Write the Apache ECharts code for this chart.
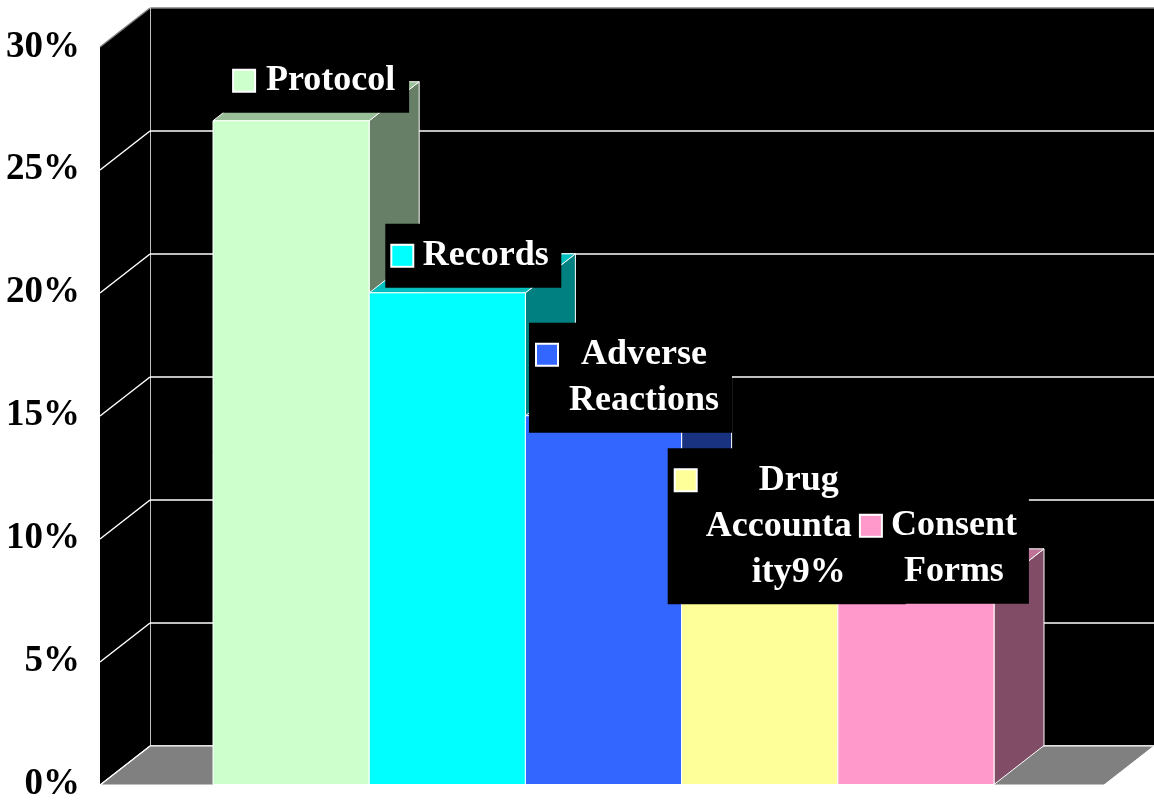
<!DOCTYPE html>
<html>
<head>
<meta charset="utf-8">
<title>Findings by category</title>
<script src="https://cdn.jsdelivr.net/npm/echarts@6/dist/echarts.min.js"></script>
<style>
html, body { margin: 0; padding: 0; background: #fff; }
#main { width: 1154px; height: 803px; }
</style>
</head>
<body>
<div id="main"></div>
<script>
// data (percent)
var categories = ['Protocol', 'Records', 'Adverse Reactions', 'Drug Accountability', 'Consent Forms'];
var values = [27, 20, 15, 9, 8];
var labelLines = [['Protocol'], ['Records'], ['Adverse', 'Reactions'], ['Drug', 'Accounta', 'ity9%'], ['Consent', 'Forms']];
var yTicks = [0, 5, 10, 15, 20, 25, 30];

// colours of the bar faces
var frontColors = ['#CCFFCC', '#00FFFF', '#3366FF', '#FFFF99', '#FF99CC'];
var sideColors = ['#667F66', '#008080', '#1A3380', '#80804C', '#804C66'];
var topColors = ['#99BF99', '#00BFBF', '#264CBF', '#BFBF73', '#BF7399'];

// depth of the 3d look, px
var DX = 50, DY = -39;
var FONT = '"Liberation Serif", "Times New Roman", serif';

// label box layout (offsets from bar top, widths)
var labelBox = [
  { dx: 0, dy: -8, pl: 11, gap: 10, w: 133, pr: 12 },
  { dx: 1, dy: -5, pl: 7, gap: 11, w: 125, pr: 13 },
  { dx: 2, dy: 17, pl: 8, gap: 4, w: 166, pr: 5 },
  { dx: 2, dy: 41, pl: 8, gap: 10, w: 186, pr: 14, leftLines: [1] },
  { dx: 0, dy: 16, pl: 8, gap: 4, w: 138, pr: 6 }
];

var myChart = echarts.init(document.getElementById('main'));

var labelFont = {
  lineHeight: 46, fontSize: 36, fontWeight: 'bold', fontFamily: FONT,
  fill: '#fff', color: '#fff'
};

var option = {
  animation: false,
  grid: [
    // front plane (bars)
    { left: 213, right: 160, top: 47, bottom: 18 },
    // back wall
    { left: 150, right: 0, top: 8, bottom: 57, show: true, backgroundColor: '#000', borderWidth: 0 }
  ],
  xAxis: [
    { type: 'category', gridIndex: 0, data: categories, show: false },
    { type: 'value', gridIndex: 1, min: 0, max: 1, show: false }
  ],
  yAxis: [
    {
      type: 'value', gridIndex: 0, min: 0, max: 30, interval: 5,
      axisLine: { show: false }, axisTick: { show: false }, splitLine: { show: false },
      axisLabel: {
        margin: 133, formatter: '{value}%', color: '#000',
        fontSize: 37, fontWeight: 'bold', fontFamily: FONT,
        padding: [6, 0, 0, 0]
      }
    },
    {
      type: 'value', gridIndex: 1, min: 0, max: 30, interval: 5,
      axisLabel: { show: false }, axisTick: { show: false },
      axisLine: { show: true, lineStyle: { color: '#fff', width: 1.5 } },
      splitLine: {
        show: true,
        lineStyle: { color: ['#fff', '#fff', '#fff', '#fff', '#fff', '#fff', '#808080'], width: 1.5 }
      }
    }
  ],
  series: [
    {
      // side wall, floor and side wall grid lines
      type: 'custom',
      xAxisIndex: 1, yAxisIndex: 1,
      clip: false,
      z: 1,
      data: yTicks.map(function (t) { return [0, t]; }),
      renderItem: function (params, api) {
        var v = api.value(1);
        var p = api.coord([0, v]);
        var children = [];
        if (params.dataIndex === 0) {
          var bl = api.coord([0, 0]), tl = api.coord([0, 30]), br = api.coord([1, 0]);
          children.push({
            type: 'polygon',
            shape: { points: [[tl[0], tl[1]], [bl[0], bl[1]], [bl[0] - DX, bl[1] - DY], [tl[0] - DX, tl[1] - DY]] },
            style: { fill: '#000' }
          });
          children.push({
            type: 'polygon',
            shape: { points: [[bl[0], bl[1]], [br[0], br[1]], [br[0] - DX, br[1] - DY], [bl[0] - DX, bl[1] - DY]] },
            style: { fill: '#808080', stroke: '#fff', lineWidth: 1 }
          });
        }
        children.push({
          type: 'line',
          shape: { x1: p[0], y1: p[1], x2: p[0] - DX, y2: p[1] - DY },
          style: { stroke: v === 30 ? '#808080' : '#fff', lineWidth: 1.5 }
        });
        return { type: 'group', children: children };
      }
    },
    {
      // 3d bars
      type: 'custom',
      xAxisIndex: 0, yAxisIndex: 0,
      clip: false,
      z: 2,
      encode: { x: 0, y: 1 },
      data: values.map(function (v, i) { return [i, v]; }),
      renderItem: function (params, api) {
        var i = params.dataIndex;
        var base = api.coord([api.value(0), 0]);
        var top = api.coord([api.value(0), api.value(1)]);
        var w = api.size([1, 0])[0];
        var x0 = base[0] - w / 2, x1 = base[0] + w / 2;
        return {
          type: 'group',
          children: [
            {
              type: 'polygon',
              shape: { points: [[x1, top[1]], [x1 + DX, top[1] + DY], [x1 + DX, base[1] + DY], [x1, base[1]]] },
              style: { fill: sideColors[i], stroke: '#fff', lineWidth: 1 }
            },
            {
              type: 'polygon',
              shape: { points: [[x0, top[1]], [x1, top[1]], [x1 + DX, top[1] + DY], [x0 + DX, top[1] + DY]] },
              style: { fill: topColors[i], stroke: '#fff', lineWidth: 1 }
            },
            {
              type: 'rect',
              shape: { x: x0, y: top[1], width: w, height: base[1] - top[1] },
              style: { fill: frontColors[i], stroke: '#fff', lineWidth: 1 }
            }
          ]
        };
      }
    },
    {
      // data labels with legend keys
      type: 'custom',
      xAxisIndex: 0, yAxisIndex: 0,
      clip: false,
      z: 3,
      encode: { x: 0, y: 1 },
      data: values.map(function (v, i) { return [i, v]; }),
      renderItem: function (params, api) {
        var i = params.dataIndex;
        var b = labelBox[i];
        var p = api.coord([api.value(0), api.value(1)]);
        var txt = labelLines[i].map(function (s, k) {
          var key = (b.leftLines && b.leftLines.indexOf(k) >= 0) ? 'tl' : 't';
          return (k === 0 ? '{sq|}' : '{pad|}') + '{g|}{' + key + '|' + s + '}';
        }).join('\n');
        return {
          type: 'text',
          x: p[0] + DX / 2 + b.dx,
          y: p[1] + b.dy,
          style: {
            text: txt,
            align: 'center',
            verticalAlign: 'bottom',
            backgroundColor: '#000',
            padding: [9, b.pr, 9, b.pl],
            lineHeight: 46,
            rich: {
              sq: { align: 'left', width: 20, height: 20, backgroundColor: frontColors[i], borderColor: '#fff', borderWidth: 2 },
              pad: { align: 'left', width: 20 },
              g: { align: 'left', width: b.gap },
              t: echarts.util.extend({ width: b.w, align: 'center' }, labelFont),
              tl: echarts.util.extend({ width: b.w, align: 'left' }, labelFont)
            }
          }
        };
      }
    }
  ]
};

myChart.setOption(option);
window.onresize = function () {
  myChart.resize();
};
</script>
</body>
</html>
